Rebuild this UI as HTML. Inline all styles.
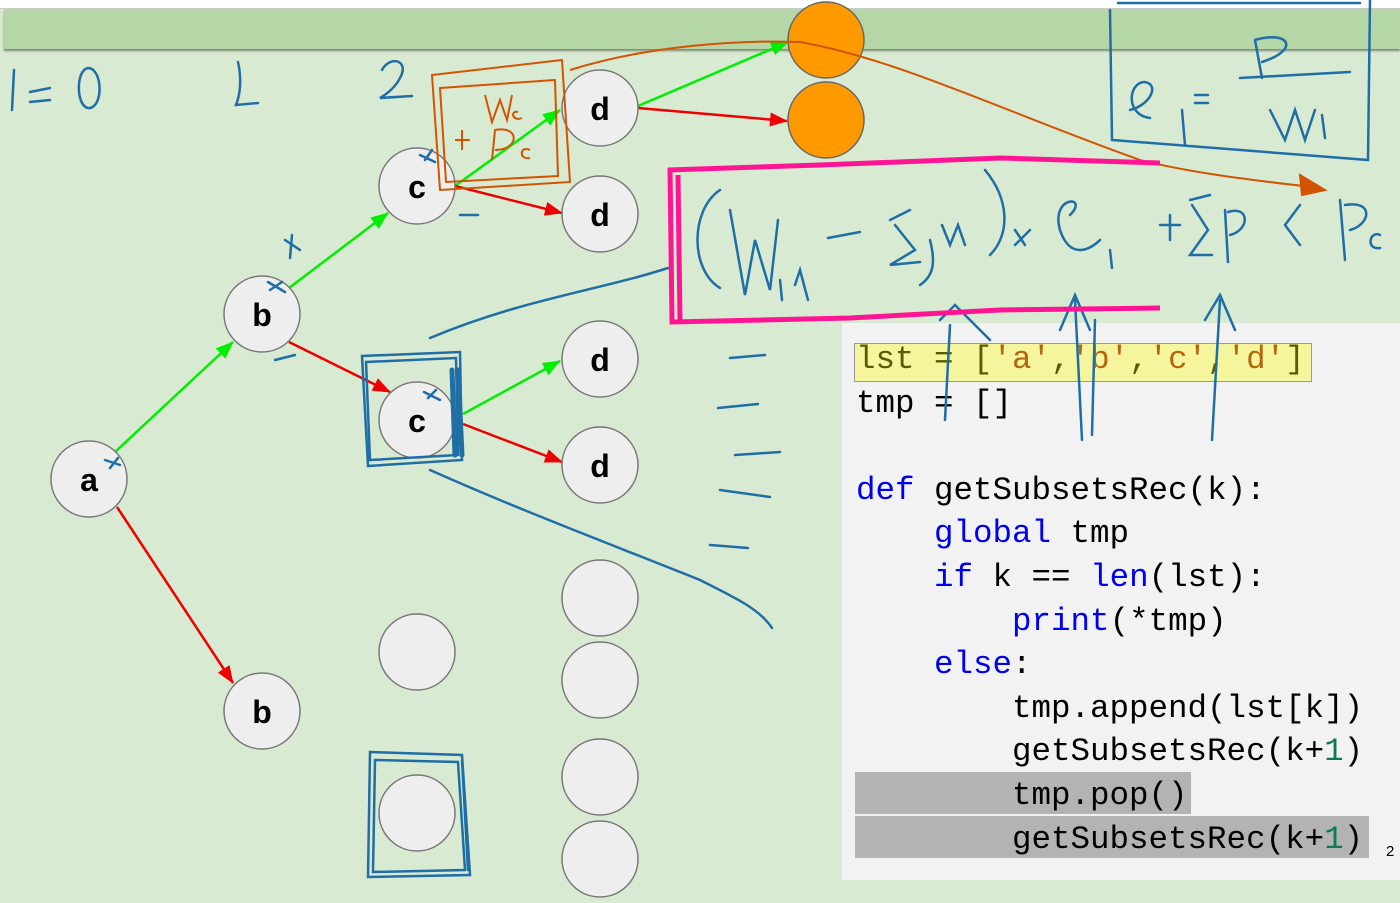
<!DOCTYPE html>
<html><head><meta charset="utf-8"><style>
html,body{margin:0;padding:0;width:1400px;height:903px;overflow:hidden;background:#d9ead3;font-family:"Liberation Sans",sans-serif}
#tb{position:absolute;left:0;top:0;width:1400px;height:8px;background:#fff;border-bottom:1px solid #ccc}
#band{position:absolute;left:4px;top:9px;width:1396px;height:40px;background:#b5d6a7;box-shadow:0 2px 2px #7a8a75}
#code{position:absolute;left:842px;top:323px;width:558px;height:557px;background:#f2f2f2}
pre{position:absolute;left:856px;top:338px;margin:0;font-family:"Liberation Mono",monospace;font-size:32.5px;line-height:43.6px;color:#000}
.k{color:#0000f0}.s{color:#b5650f}.n{color:#0b7a50}
#hl{position:absolute;left:854px;top:343px;width:456px;height:37px;background:#f5f59e;border:1px solid #999}
.g1{position:absolute;left:855px;top:772px;width:336px;height:42px;background:#b3b3b3}
.g2{position:absolute;left:855px;top:816px;width:514px;height:42px;background:#b3b3b3}
svg{position:absolute;left:0;top:0}
</style></head><body>
<div id="tb"></div><div id="band"></div>
<div id="code"></div><div id="hl"></div><div class="g1"></div><div class="g2"></div>
<pre><span style="color:#5a5a00">lst = [</span><span class="s">'a'</span><span style="color:#5a5a00">,</span><span class="s">'b'</span><span style="color:#5a5a00">,</span><span class="s">'c'</span><span style="color:#5a5a00">,</span><span class="s">'d'</span><span style="color:#5a5a00">]</span>
tmp = []

<span class="k">def</span> getSubsetsRec(k):
    <span class="k">global</span> tmp
    <span class="k">if</span> k == <span class="k">len</span>(lst):
        <span class="k">print</span>(*tmp)
    <span class="k">else</span>:
        tmp.append(lst[k])
        getSubsetsRec(k+<span class="n">1</span>)
        tmp.pop()
        getSubsetsRec(k+<span class="n">1</span>)</pre>
<div style="position:absolute;left:1386px;top:843px;font-size:15px">2</div>
<svg width="1400" height="903">
<defs>
<marker id="ag" markerWidth="10" markerHeight="8" refX="9" refY="4" orient="auto" markerUnits="userSpaceOnUse" viewBox="0 0 10 8"><path d="M0,0L10,4L0,8z" fill="#00ee00"/></marker>
<marker id="ar" markerWidth="18" markerHeight="14" refX="17" refY="7" orient="auto" markerUnits="userSpaceOnUse"><path d="M0,0L18,7L0,14z" fill="#ee0000"/></marker>
<marker id="ag2" markerWidth="18" markerHeight="14" refX="17" refY="7" orient="auto" markerUnits="userSpaceOnUse"><path d="M0,0L18,7L0,14z" fill="#00ee00"/></marker>
</defs>
<g stroke-width="2.5" fill="none">
<line x1="115" y1="452" x2="233" y2="342" stroke="#00ee00" marker-end="url(#ag2)"/>
<line x1="289" y1="288" x2="388" y2="213" stroke="#00ee00" marker-end="url(#ag2)"/>
<line x1="455" y1="186" x2="560" y2="110" stroke="#00ee00" marker-end="url(#ag2)"/>
<line x1="463" y1="414" x2="560" y2="361" stroke="#00ee00" marker-end="url(#ag2)"/>
<line x1="638" y1="106" x2="788" y2="42" stroke="#00ee00" marker-end="url(#ag2)"/>
<line x1="117" y1="507" x2="233" y2="683" stroke="#ee0000" marker-end="url(#ar)"/>
<line x1="289" y1="342" x2="390" y2="392" stroke="#ee0000" marker-end="url(#ar)"/>
<line x1="455" y1="186" x2="562" y2="213" stroke="#ee0000" marker-end="url(#ar)"/>
<line x1="463" y1="424" x2="562" y2="462" stroke="#ee0000" marker-end="url(#ar)"/>
<line x1="638" y1="108" x2="787" y2="121" stroke="#ee0000" marker-end="url(#ar)"/>
</g>
<g fill="#eeeeee" stroke="#777" stroke-width="1.5">
<circle cx="89" cy="479" r="38"/><circle cx="262" cy="314" r="38"/><circle cx="262" cy="711" r="38"/>
<circle cx="417" cy="186" r="38"/><circle cx="417" cy="420" r="38"/>
<circle cx="600" cy="108" r="38"/><circle cx="600" cy="214" r="38"/><circle cx="600" cy="359" r="38"/><circle cx="600" cy="465" r="38"/>
<circle cx="417" cy="652" r="38"/><circle cx="417" cy="813" r="38"/>
<circle cx="600" cy="598" r="38"/><circle cx="600" cy="680" r="38"/><circle cx="600" cy="777" r="38"/><circle cx="600" cy="859" r="38"/>
</g>
<g fill="#ff9900" stroke="#666" stroke-width="1.5"><circle cx="826" cy="40" r="38"/><circle cx="826" cy="120" r="38"/></g>
<g font-family="Liberation Sans" font-weight="bold" font-size="32" text-anchor="middle">
<text x="89" y="491">a</text><text x="262" y="326">b</text><text x="262" y="723">b</text>
<text x="417" y="198">c</text><text x="417" y="432">c</text>
<text x="600" y="120">d</text><text x="600" y="226">d</text><text x="600" y="371">d</text><text x="600" y="477">d</text>
</g>
<g stroke="#1f6ea5" stroke-width="2.5" fill="none" stroke-linecap="round">
<path d="M14,70 L12,110 M30,92 L50,88 M30,102 L50,100 M88,68 C75,70 76,110 90,108 C104,105 102,68 88,68"/>
<path d="M238,62 C242,80 240,95 236,105 L258,103"/>
<path d="M382,70 C390,55 410,60 400,78 C395,88 385,95 380,98 L412,96"/>
<path d="M362,356 L460,352 L462,460 L368,466 Z M366,362 L456,358 L458,455 L370,460 Z"/>
<path d="M452,370 L455,455 M458,370 L462,455" stroke-width="5"/>
<path d="M370,752 L462,755 L470,875 L368,877 Z M375,760 L458,762 L465,870 L373,872Z M462,760 L468,870" />
<path d="M430,338 C520,300 600,290 668,268"/>
<path d="M430,470 C520,510 600,540 700,580 C740,600 760,610 772,628"/>
<path d="M730,358 L765,355 M718,408 L758,404 M735,455 L780,452 M720,490 L770,497 M710,545 L748,548"/>
<path d="M285,240 L300,250 M292,235 L290,258 M460,215 L478,215 M275,360 L295,355"/>
<path d="M1110,10 L1112,140 L1368,160 L1370,0 M1118,3 L1360,3"/>
<path d="M1130,110 C1150,105 1160,85 1145,82 C1128,82 1125,115 1150,118 M1182,110 L1185,145 M1195,95 L1208,95 M1195,103 L1208,103 M1255,40 L1262,78 M1255,40 C1290,30 1300,50 1262,62 M1240,78 L1350,72 M1270,110 L1285,140 L1295,110 L1305,140 L1315,110 M1322,115 L1325,138"/>
<path d="M720,190 C690,210 690,270 720,288 M730,210 L745,295 L755,240 L770,290 L778,220 M780,280 L782,300 M795,285 L800,270 L808,300 M828,238 L860,232 M890,220 L910,210 M895,225 L915,250 L890,265 L920,262 M942,225 L950,245 L958,225 L965,245 M985,170 C1010,200 1010,235 990,255 M1015,230 L1025,245 M1015,245 L1030,230 M1070,215 C1090,195 1050,195 1060,230 C1070,260 1090,250 1100,240 M1110,250 L1112,268 M1160,225 L1180,225 M1170,215 L1170,240 M1190,200 L1210,195 M1192,205 L1208,230 L1190,255 L1212,255 M1225,210 L1228,262 M1228,212 C1250,205 1250,230 1230,235 M1300,205 L1285,225 L1300,245 M1340,200 L1345,260 M1345,205 C1375,200 1370,225 1350,230 M1380,235 C1370,230 1365,250 1380,248"/>
<path d="M930,240 C935,260 935,275 920,285 M950,325 L945,420 M940,320 L955,305 L990,340 M1075,300 L1082,440 M1060,330 L1075,295 L1090,330 M1095,320 L1092,435 M1220,300 L1212,440 M1205,320 L1220,295 L1235,330"/>
<path d="M110,468 L118,458 M105,460 L120,465 M270,290 L282,282 M268,282 L285,292 M425,160 L432,150 M420,155 L435,162 M428,398 L436,390 M424,392 L440,400"/>
</g>
<g stroke="#d35400" stroke-width="2" fill="none">
<path d="M432,75 L562,60 L570,182 L440,190 Z M440,88 L555,80 L558,176 L446,182 Z"/>
<path d="M485,95 L492,122 L500,100 L507,120 L512,95 M518,112 C510,110 512,122 522,118 M455,140 L470,140 M462,130 L462,150 M492,160 L495,130 C520,125 520,150 495,150 M530,150 C520,145 518,160 530,158"/>
<path d="M570,70 C650,45 740,40 800,42 C900,60 1000,110 1140,160 C1200,175 1270,182 1320,188"/>
<path d="M1300,175 L1325,190 L1302,195 Z" fill="#d35400"/>
</g>
<g stroke="#ff1493" stroke-width="5" fill="none">
<path d="M668,170 L820,165 L1000,158 L1160,163 M670,168 L672,322 L850,318 L1000,310 L1160,308 M678,175 L680,320"/>
</g>
</svg>
</body></html>
